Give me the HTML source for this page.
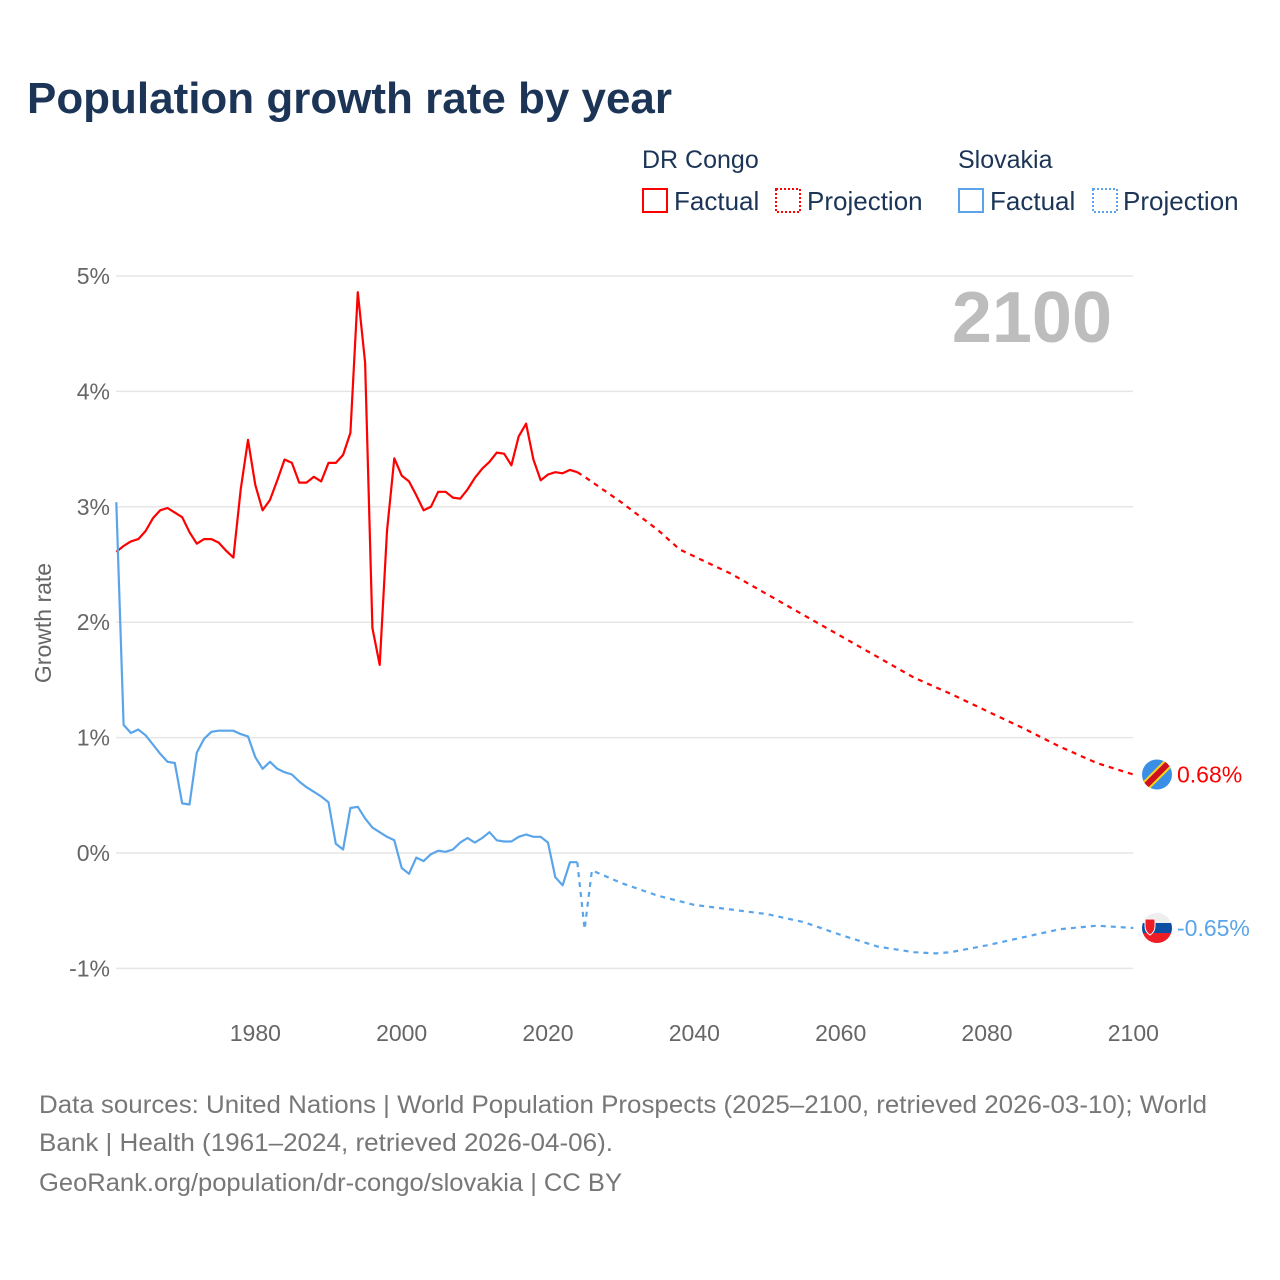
<!DOCTYPE html>
<html><head><meta charset="utf-8">
<style>
body{margin:0;background:#fff;}
svg{display:block;font-family:"Liberation Sans",sans-serif;}
</style></head>
<body>
<svg id="chart" width="1280" height="1280" viewBox="0 0 1280 1280">
<text x="27" y="113" font-size="44" font-weight="bold" fill="#1c3557" textLength="645" lengthAdjust="spacingAndGlyphs">Population growth rate by year</text>
<g>
<text x="642" y="168" font-size="25" fill="#1c3557">DR Congo</text>
<rect x="643" y="189" width="24" height="23" fill="none" stroke="#ff0000" stroke-width="2"/>
<text x="674" y="210" font-size="26" fill="#1c3557">Factual</text>
<rect x="776" y="189" width="24" height="23" fill="none" stroke="#ff0000" stroke-width="2" stroke-dasharray="2,2"/>
<text x="807" y="210" font-size="26" fill="#1c3557">Projection</text>
<text x="958" y="168" font-size="25" fill="#1c3557">Slovakia</text>
<rect x="959" y="189" width="24" height="23" fill="none" stroke="#5aa5ea" stroke-width="2"/>
<text x="990" y="210" font-size="26" fill="#1c3557">Factual</text>
<rect x="1093" y="189" width="24" height="23" fill="none" stroke="#5aa5ea" stroke-width="2" stroke-dasharray="2,2"/>
<text x="1123" y="210" font-size="26" fill="#1c3557">Projection</text>
</g>
<g id="grid"></g>
<g id="xaxis"></g>
<text x="1112" y="342" text-anchor="end" font-size="72" font-weight="bold" fill="#bdbdbd">2100</text>
<text transform="translate(51,623) rotate(-90)" text-anchor="middle" font-size="23" fill="#666">Growth rate</text>
<g id="series"></g>
<g id="ends"></g>
<g font-size="25" fill="#777">
<text x="39" y="1113" textLength="1168" lengthAdjust="spacingAndGlyphs">Data sources: United Nations | World Population Prospects (2025–2100, retrieved 2026-03-10); World</text>
<text x="39" y="1151" textLength="574" lengthAdjust="spacingAndGlyphs">Bank | Health (1961–2024, retrieved 2026-04-06).</text>
<text x="39" y="1191" textLength="583" lengthAdjust="spacingAndGlyphs">GeoRank.org/population/dr-congo/slovakia | CC BY</text>
</g>
</svg>
<script>
const yTicks=[5,4,3,2,1,0,-1];
const yTickLabels=["5%","4%","3%","2%","1%","0%","-1%"];
const xTicks=[1980,2000,2020,2040,2060,2080,2100];
const drcFactYears=[1961,1962,1963,1964,1965,1966,1967,1968,1969,1970,1971,1972,1973,1974,1975,1976,1977,1978,1979,1980,1981,1982,1983,1984,1985,1986,1987,1988,1989,1990,1991,1992,1993,1994,1995,1996,1997,1998,1999,2000,2001,2002,2003,2004,2005,2006,2007,2008,2009,2010,2011,2012,2013,2014,2015,2016,2017,2018,2019,2020,2021,2022,2023,2024];
const drcFact=[2.61,2.66,2.70,2.72,2.79,2.90,2.97,2.99,2.95,2.91,2.78,2.68,2.72,2.72,2.69,2.62,2.56,3.15,3.58,3.19,2.97,3.06,3.23,3.41,3.38,3.21,3.21,3.26,3.22,3.38,3.38,3.45,3.64,4.86,4.25,1.95,1.63,2.79,3.42,3.27,3.22,3.10,2.97,3.00,3.13,3.13,3.08,3.07,3.15,3.25,3.33,3.39,3.47,3.46,3.36,3.61,3.72,3.41,3.23,3.28,3.30,3.29,3.32,3.30];
const drcProjYears=[2024,2025,2030,2035,2038,2040,2045,2050,2055,2060,2065,2070,2075,2080,2085,2090,2095,2100];
const drcProj=[3.30,3.26,3.04,2.80,2.63,2.57,2.42,2.24,2.06,1.88,1.70,1.52,1.38,1.23,1.08,0.92,0.78,0.68];
const svkFactYears=drcFactYears;
const svkFact=[3.04,1.11,1.04,1.07,1.02,0.94,0.86,0.79,0.78,0.43,0.42,0.87,0.99,1.05,1.06,1.06,1.06,1.03,1.01,0.83,0.73,0.79,0.73,0.70,0.68,0.62,0.57,0.53,0.49,0.44,0.08,0.03,0.39,0.40,0.30,0.22,0.18,0.14,0.11,-0.13,-0.18,-0.04,-0.07,-0.01,0.02,0.01,0.03,0.09,0.13,0.09,0.13,0.18,0.11,0.10,0.10,0.14,0.16,0.14,0.14,0.09,-0.21,-0.28,-0.08,-0.08];
const svkProjYears=[2024,2025,2026,2030,2035,2040,2045,2050,2055,2060,2065,2070,2073,2075,2080,2085,2090,2095,2100];
const svkProj=[-0.08,-0.66,-0.15,-0.26,-0.37,-0.45,-0.49,-0.53,-0.60,-0.71,-0.81,-0.86,-0.87,-0.86,-0.80,-0.73,-0.66,-0.63,-0.65];

const NS="http://www.w3.org/2000/svg";
const X=yr=>116.3+(yr-1961)*7.317;
const Y=v=>853-v*115.4;
function mk(tag,attrs,parent){const e=document.createElementNS(NS,tag);for(const k in attrs)e.setAttribute(k,attrs[k]);parent.appendChild(e);return e;}
const grid=document.getElementById('grid');
yTicks.forEach((t,i)=>{
  const l=mk('line',{x1:116,x2:1133,y1:Y(t),y2:Y(t),stroke:'#e6e6e6','stroke-width':1.5},grid);
  
  
  const tx=mk('text',{x:110,y:Y(t)+8,'text-anchor':'end','font-size':23,fill:'#666'},grid);
  tx.textContent=yTickLabels[i];
  
  
});
const xa=document.getElementById('xaxis');
xTicks.forEach(t=>{
  const tx=mk('text',{x:X(t),y:1041,'text-anchor':'middle','font-size':23,fill:'#666'},xa);
  tx.textContent=t;
  
  
});
const sg=document.getElementById('series');
function line(years,vals,color,dash,name){
  const d=years.map((y,i)=>(i?'L':'M')+X(y).toFixed(1)+','+Y(vals[i]).toFixed(1)).join(' ');
  const p=mk('path',{d:d,fill:'none',stroke:color,'stroke-width':2.2,'stroke-linejoin':'round'},sg);
  if(dash)p.setAttribute('stroke-dasharray','5,5');
  
  
}
line(drcFactYears,drcFact,'#ff0000',false,'drc-factual-line');
line(drcProjYears,drcProj,'#ff0000',true,'drc-projection-line');
line(svkFactYears,svkFact,'#5aa5ea',false,'slovakia-factual-line');
line(svkProjYears,svkProj,'#5aa5ea',true,'slovakia-projection-line');

const ends=document.getElementById('ends');
const dv=drcProj[drcProj.length-1], sv=svkProj[svkProj.length-1];
const cx=1157, dy=Y(dv), sy=Y(sv);
const defs=mk('defs',{},ends);
const c1=mk('clipPath',{id:'c1'},defs);mk('circle',{cx:cx,cy:dy,r:15},c1);
const c2=mk('clipPath',{id:'c2'},defs);mk('circle',{cx:cx,cy:sy,r:15},c2);
const fd=mk('g',{'clip-path':'url(#c1)'},ends);


mk('rect',{x:cx-16,y:dy-16,width:32,height:32,fill:'#3a8ee6'},fd);
mk('line',{x1:cx-16,y1:dy+16,x2:cx+16,y2:dy-16,stroke:'#f7d618','stroke-width':10},fd);
mk('line',{x1:cx-16,y1:dy+16,x2:cx+16,y2:dy-16,stroke:'#ce1021','stroke-width':6},fd);
const fs=mk('g',{'clip-path':'url(#c2)'},ends);


mk('rect',{x:cx-16,y:sy-16,width:32,height:11,fill:'#eeeeee'},fs);
mk('rect',{x:cx-16,y:sy-5,width:32,height:10,fill:'#0b4ea2'},fs);
mk('rect',{x:cx-16,y:sy+5,width:32,height:11,fill:'#ee1c25'},fs);
mk('path',{d:`M${cx-12},${sy-9} h10 v7 q0,6 -5,9 q-5,-3 -5,-9 z`,fill:'#ee1c25',stroke:'#fff','stroke-width':1},fs);
const t1=mk('text',{x:1177,y:dy+8,'font-size':23,fill:'#ff0000'},ends);
t1.textContent=dv.toFixed(2)+'%';


const t2=mk('text',{x:1177,y:sy+8,'font-size':23,fill:'#5aa5ea'},ends);
t2.textContent=sv.toFixed(2)+'%';


</script>
</body></html>
